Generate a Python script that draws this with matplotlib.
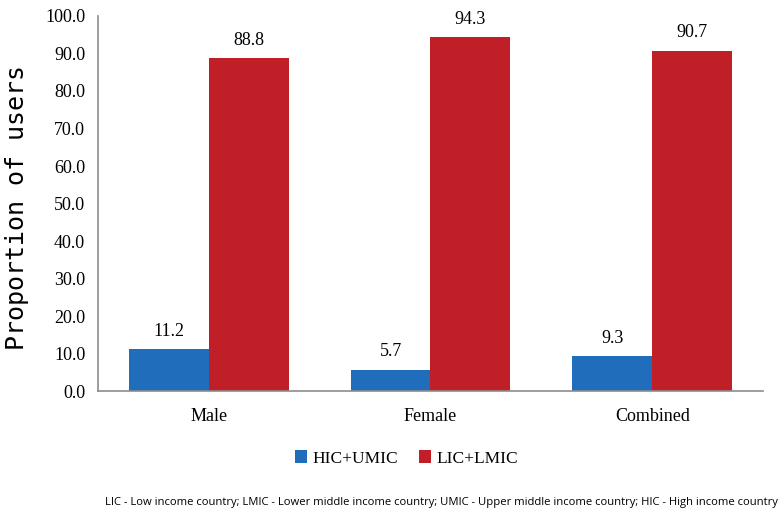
import matplotlib.pyplot as plt
import numpy as np

# data
categories = ['Male', 'Female', 'Combined']
hic_umic = [11.2, 5.7, 9.3]
lic_lmic = [88.8, 94.3, 90.7]
series_names = ['HIC+UMIC', 'LIC+LMIC']

blue = '#1f6dbb'
red = '#c01f27'
serif = 'Liberation Serif'

fig = plt.figure(figsize=(7.82, 5.14), dpi=100)
ax = fig.add_axes([0.125, 0.239, 0.851, 0.730])

x = np.arange(len(categories))
w = 0.36
b1 = ax.bar(x - w/2, hic_umic, w, color=blue, label=series_names[0])
b2 = ax.bar(x + w/2, lic_lmic, w, color=red, label=series_names[1])

for bars in (b1, b2):
    for b in bars:
        ax.text(b.get_x() + b.get_width()/2, b.get_height() + 2.5,
                '%.1f' % b.get_height(), ha='center', va='bottom',
                fontsize=13, family=serif)

ax.set_xlim(-0.5, 2.5)
ax.set_ylim(0, 100)
ax.set_yticks(np.arange(0, 101, 10))
ax.set_yticklabels(['%.1f' % v for v in np.arange(0, 101, 10)],
                   family=serif, fontsize=13)
ax.set_xticks(x)
ax.set_xticklabels(categories, family=serif, fontsize=13)
ax.tick_params(length=0)
ax.tick_params(axis='y', pad=9)
ax.tick_params(axis='x', pad=12)

for s in ['top', 'right']:
    ax.spines[s].set_visible(False)
for s in ['left', 'bottom']:
    ax.spines[s].set_color('#8c8c8c')
    ax.spines[s].set_linewidth(1.2)

ax.set_ylabel('Proportion of users', fontsize=18, family='DejaVu Sans Mono')
ax.yaxis.set_label_coords(-0.103, 0.49)

leg = fig.legend(handles=[b1, b2], loc='center', bbox_to_anchor=(0.52, 0.108),
                 ncol=2, frameon=False, prop={'family': serif, 'size': 12.5},
                 handlelength=0.7, handleheight=0.7, handletextpad=0.3,
                 columnspacing=1.2)

fig.text(0.995, 0.022,
         'LIC - Low income country; LMIC - Lower middle income country; '
         'UMIC - Upper middle income country; HIC - High income country',
         ha='right', va='center', fontsize=8.1, family='Open Sans')

fig.savefig('out.png', dpi=100)
